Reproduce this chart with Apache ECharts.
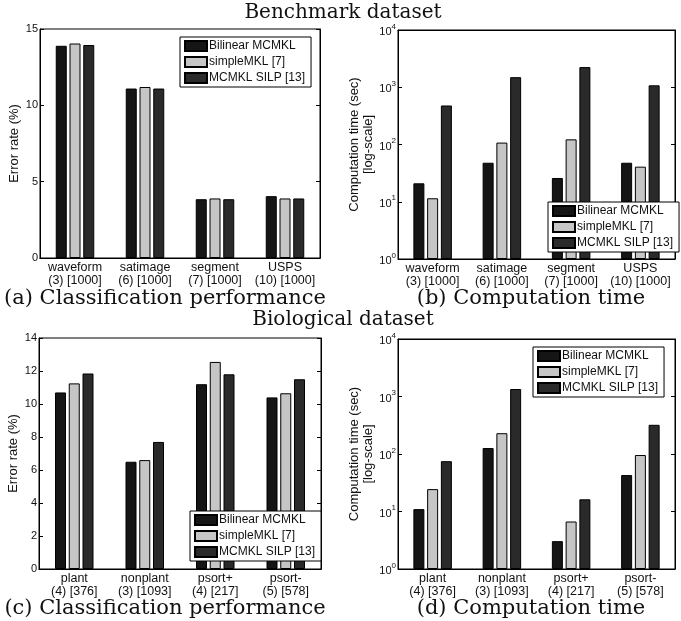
<!DOCTYPE html>
<html>
<head>
<meta charset="utf-8">
<script src="https://cdn.jsdelivr.net/npm/echarts@6/dist/echarts.min.js"></script>
<style>
  html, body { margin: 0; padding: 0; background: #fff; }
  #main { width: 681px; height: 621px; }
</style>
</head>
<body>
<div id="main"></div>
<script>
const methods = ['Bilinear MCMKL', 'simpleMKL [7]', 'MCMKL SILP [13]']
const benchCats = ['waveform\n(3) [1000]', 'satimage\n(6) [1000]', 'segment\n(7) [1000]', 'USPS\n(10) [1000]']
const bioCats = ['plant\n(4) [376]', 'nonplant\n(3) [1093]', 'psort+\n(4) [217]', 'psort-\n(5) [578]']

// error rate (%), one array per method
const benchError = [
    [13.9, 11.1, 3.85, 4.05],
    [14.05, 11.2, 3.9, 3.9],
    [13.95, 11.1, 3.85, 3.9]
]
const bioError = [
    [10.7, 6.5, 11.2, 10.4],
    [11.25, 6.6, 12.55, 10.65],
    [11.85, 7.7, 11.8, 11.5]
]
// computation time (sec), log scale
const benchTime = [
    [21, 48, 26, 48],
    [11.5, 108, 123, 41],
    [480, 1500, 2250, 1080]
]
const bioTime = [
    [11, 127, 3.05, 43],
    [24.5, 230, 6.7, 96],
    [75, 1350, 16.3, 322]
]

const headings = ['Benchmark dataset', 'Biological dataset']
const captions = ['(a) Classification performance', '(b) Computation time',
    '(c) Classification performance', '(d) Computation time']

const barColors = ['#151515', '#c6c6c6', '#2a2a2a']
const sans = 'Liberation Sans, Arial, sans-serif'
const serif = 'DejaVu Serif, serif'

let panels = [
    { cats: benchCats, data: benchError, log: false, max: 15, interval: 5, name: 'Error rate (%)',
      grid: { left: 40, top: 29, width: 280, height: 229 }, legend: { left: 180, top: 37 } },
    { cats: benchCats, data: benchTime, log: true, name: 'Computation time (sec)\n[log-scale]',
      grid: { left: 398, top: 30, width: 277, height: 229 }, legend: { left: 548, top: 202 } },
    { cats: bioCats, data: bioError, log: false, max: 14, interval: 2, name: 'Error rate (%)',
      grid: { left: 39, top: 338, width: 282, height: 231 }, legend: { left: 190, top: 511 } },
    { cats: bioCats, data: bioTime, log: true, name: 'Computation time (sec)\n[log-scale]',
      grid: { left: 398, top: 339, width: 277, height: 230 }, legend: { left: 533, top: 347 } }
]

let grid = [], xAxis = [], yAxis = [], series = [], legend = []

panels.forEach(function (p, i) {
    grid.push(Object.assign({ show: true, borderColor: '#000', borderWidth: 1, backgroundColor: '#fff' }, p.grid))

    // bottom category axis with labels, top one only for the inner ticks
    xAxis.push({
        gridIndex: i, type: 'category', data: p.cats, position: 'bottom',
        axisLine: { lineStyle: { color: '#000' } },
        axisTick: { inside: true, alignWithLabel: true, length: 4, lineStyle: { color: '#000' } },
        axisLabel: { interval: 0, color: '#111', fontFamily: sans, fontSize: 12.5, lineHeight: 13, margin: 3 }
    })
    xAxis.push({
        gridIndex: i, type: 'category', data: p.cats, position: 'top',
        axisLine: { lineStyle: { color: '#000' } },
        axisTick: { inside: true, alignWithLabel: true, length: 4, lineStyle: { color: '#000' } },
        axisLabel: { show: false }
    })

    let valueAxis
    if (p.log) {
        valueAxis = {
            type: 'log', logBase: 10, min: 1, max: 10000,
            axisLabel: {
                color: '#111', margin: 2,
                formatter: function (v) {
                    return '{b|10}{s|' + Math.round(Math.log10(v)) + '}'
                },
                rich: {
                    b: { fontFamily: sans, fontSize: 11, lineHeight: 15, verticalAlign: 'bottom', color: '#111' },
                    s: { fontFamily: sans, fontSize: 8, lineHeight: 9, verticalAlign: 'top', color: '#111' }
                }
            }
        }
    } else {
        valueAxis = {
            type: 'value', min: 0, max: p.max, interval: p.interval,
            axisLabel: { color: '#111', fontFamily: sans, fontSize: 11, margin: 2 }
        }
    }
    yAxis.push(Object.assign({
        gridIndex: i, position: 'left',
        name: p.name, nameLocation: 'middle', nameGap: p.log ? 21 : 14,
        nameTextStyle: { color: '#111', fontFamily: sans, fontSize: 13, lineHeight: 14 },
        axisLine: { show: true, lineStyle: { color: '#000' } },
        axisTick: { show: true, inside: true, length: 4, lineStyle: { color: '#000' } },
        splitLine: { show: false }
    }, valueAxis))
    yAxis.push(Object.assign({}, valueAxis, {
        gridIndex: i, position: 'right',
        axisLine: { show: true, lineStyle: { color: '#000' } },
        axisTick: { show: true, inside: true, length: 4, lineStyle: { color: '#000' } },
        axisLabel: { show: false },
        splitLine: { show: false }
    }))

    methods.forEach(function (m, k) {
        series.push({
            name: m, type: 'bar',
            xAxisIndex: i * 2, yAxisIndex: i * 2,
            data: p.data[k],
            barWidth: 11, barGap: '25%',
            itemStyle: { color: barColors[k], borderColor: '#000', borderWidth: 1 },
            animation: false
        })
    })

    legend.push({
        left: p.legend.left, top: p.legend.top,
        orient: 'vertical', data: methods,
        backgroundColor: '#fff', borderColor: '#000', borderWidth: 1,
        padding: [3, 6, 3, 4], itemGap: 4, itemWidth: 22, itemHeight: 10,
        icon: 'rect',
        textStyle: { color: '#111', fontFamily: sans, fontSize: 12, padding: [0, 0, 0, -3] },
        selectedMode: false
    })
})

let graphic = []
const headPos = [[343, 13], [343, 320]]
headings.forEach(function (t, i) {
    graphic.push({ type: 'text', x: headPos[i][0], y: headPos[i][1],
        style: { text: t, font: '20px ' + serif, fill: '#111', align: 'center', verticalAlign: 'middle' } })
})
const capPos = [[165, 299], [531, 299], [165, 609], [531, 609]]
captions.forEach(function (t, i) {
    graphic.push({ type: 'text', x: capPos[i][0], y: capPos[i][1],
        style: { text: t, font: '21px ' + serif, fill: '#111', align: 'center', verticalAlign: 'middle' } })
})

let chart = echarts.init(document.getElementById('main'))
chart.setOption({
    animation: false,
    backgroundColor: '#fff',
    grid: grid,
    xAxis: xAxis,
    yAxis: yAxis,
    series: series,
    legend: legend,
    graphic: graphic
})
</script>
</body>
</html>
